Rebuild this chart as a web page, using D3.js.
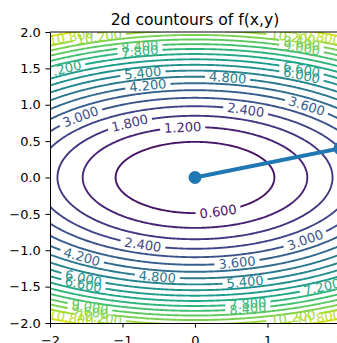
<!DOCTYPE html>
<html>
<head>
<meta charset="utf-8">
<script src="https://cdn.jsdelivr.net/npm/d3@7"></script>
<style>
  body { margin: 0; background: #fff; }
  text { font-family: "DejaVu Sans", sans-serif; }
</style>
</head>
<body>
<div id="chart"></div>
<script>
// f(x, y) = cx * x^2 + cy * y^2
const coefX = 0.5;
const coefY = 2.5;

const xTicks = [-2, -1, 0, 1, 2];
const yTicks = [-2, -1.5, -1, -0.5, 0, 0.5, 1, 1.5, 2];
const levels = [0.6, 1.2, 1.8, 2.4, 3.0, 3.6, 4.2, 4.8, 5.4, 6.0, 6.6, 7.2, 7.8, 8.4, 9.0, 9.6, 10.2, 10.8, 11.4];
const colorMax = 12;

// path drawn on top
const pathX = [0, 2];
const pathY = [0, 0.4];

// contour labels: [level, x, side (+1 upper arc, -1 lower arc)]
const labelsTop = [
  [1.2, -0.17, 1], [1.8, -0.9, 1], [2.4, 0.7, 1], [3.0, -1.58, 1], [3.6, 1.54, 1],
  [4.2, -0.65, 1], [4.8, 0.45, 1], [5.4, -0.72, 1], [6.0, 1.47, 1], [6.6, 1.47, 1],
  [7.2, -1.82, 1], [7.8, -0.76, 1], [8.4, -0.76, 1], [9.0, 1.47, 1], [9.6, 1.47, 1],
  [10.8, -1.71, 1], [10.2, -1.32, 1], [10.2, 1.35, 1], [10.8, 1.7, 1]
];
const labelsBottom = [
  [0.6, 0.32, -1], [2.4, -0.72, -1], [3.0, 1.52, -1], [3.6, 0.58, -1], [4.2, -1.56, -1],
  [4.8, -0.52, -1], [5.4, 0.69, -1], [6.0, -1.54, -1], [6.6, -1.54, -1], [7.2, 1.75, -1],
  [7.8, 0.73, -1], [8.4, 0.73, -1], [9.0, -1.45, -1], [9.6, -1.45, -1],
  [10.8, -1.71, -1], [10.2, -1.32, -1], [10.2, 1.35, -1], [10.8, 1.7, -1]
];

const margin = { top: 32, left: 50 };
const width = 290, height = 291;

const svg = d3.select("#chart").append("svg")
  .attr("width", 337)
  .attr("height", 343);

const x = d3.scaleLinear().domain([-2, 2]).range([0, width]);
const y = d3.scaleLinear().domain([-2, 2]).range([height, 0]);
const color = d => d3.interpolateViridis(d / colorMax);

const g = svg.append("g")
  .attr("transform", `translate(${margin.left}, ${margin.top})`);

svg.append("defs").append("clipPath").attr("id", "clip")
  .append("rect").attr("width", width).attr("height", height);

// grid a bit larger than the axes so the grid border is clipped away
const n = 221;
const gx = d3.scaleLinear().domain([0.5, n - 0.5]).range([-2.2, 2.2]);
const gy = d3.scaleLinear().domain([0.5, n - 0.5]).range([-2.2, 2.2]);
const values = new Array(n * n);
for (let j = 0; j < n; j++) {
  for (let i = 0; i < n; i++) {
    const xv = gx(i + 0.5), yv = gy(j + 0.5);
    values[j * n + i] = coefX * xv * xv + coefY * yv * yv;
  }
}
const contours = d3.contours().size([n, n]).thresholds(levels)(values);

const proj = d3.geoTransform({
  point: function (px, py) { this.stream.point(x(gx(px)), y(gy(py))); }
});
const geoPath = d3.geoPath(proj);

const plot = g.append("g").attr("clip-path", "url(#clip)");

// labels first (for measuring), then masks, then lines
const allLabels = labelsTop.concat(labelsBottom).map(([lev, lx, side]) => {
  const ly = side * Math.sqrt((lev - coefX * lx * lx) / coefY);
  // tangent in screen space (equal scale on both axes)
  let ang = Math.atan2(lx * coefX, ly * coefY) * 180 / Math.PI;
  if (ang > 90) ang -= 180;
  if (ang < -90) ang += 180;
  return { lev, px: x(lx), py: y(ly), ang };
});

const defs = svg.select("defs");
const lineLayer = plot.append("g");
const labelLayer = plot.append("g");

const labelText = labelLayer.selectAll("text")
  .data(allLabels)
  .join("text")
  .attr("transform", d => `translate(${d.px}, ${d.py}) rotate(${d.ang})`)
  .attr("text-anchor", "middle")
  .attr("dominant-baseline", "central")
  .attr("font-size", "13px")
  .attr("fill", d => color(d.lev))
  .text(d => d3.format(".3f")(d.lev));

labelText.each(function (d) { d.w = this.getComputedTextLength(); });

levels.forEach((lev, k) => {
  const m = defs.append("mask").attr("id", "m" + k)
    .attr("maskUnits", "userSpaceOnUse")
    .attr("x", -50).attr("y", -50).attr("width", width + 100).attr("height", height + 100);
  m.append("rect").attr("x", -50).attr("y", -50)
    .attr("width", width + 100).attr("height", height + 100).attr("fill", "#fff");
  allLabels.filter(d => d.lev === lev).forEach(d => {
    m.append("rect")
      .attr("x", -d.w / 2 - 4).attr("y", -7)
      .attr("width", d.w + 8).attr("height", 14)
      .attr("transform", `translate(${d.px}, ${d.py}) rotate(${d.ang})`)
      .attr("fill", "#000");
  });
});

lineLayer.selectAll("path")
  .data(contours)
  .join("path")
  .attr("d", geoPath)
  .attr("fill", "none")
  .attr("stroke", d => color(d.value))
  .attr("stroke-width", 1.9)
  .attr("mask", (d, k) => `url(#m${k})`);

// blue path with markers
const pts = pathX.map((v, i) => [v, pathY[i]]);
g.append("path")
  .datum(pts)
  .attr("fill", "none")
  .attr("stroke", "#1f77b4")
  .attr("stroke-width", 3.9)
  .attr("d", d3.line().x(d => x(d[0])).y(d => y(d[1])));
g.selectAll("circle.pt")
  .data(pts)
  .join("circle")
  .attr("class", "pt")
  .attr("cx", d => x(d[0]))
  .attr("cy", d => y(d[1]))
  .attr("r", 6.5)
  .attr("fill", "#1f77b4");

// axes
const xAxis = g.append("g")
  .attr("transform", `translate(0, ${height})`)
  .call(d3.axisBottom(x).tickValues(xTicks).tickSize(4.6).tickPadding(8).tickSizeOuter(0)
    .tickFormat(d3.format(".0f")));
const yAxis = g.append("g")
  .call(d3.axisLeft(y).tickValues(yTicks).tickSize(4.6).tickPadding(4.6).tickSizeOuter(0)
    .tickFormat(d3.format(".1f")));

[xAxis, yAxis].forEach(a => {
  a.attr("font-family", null).attr("font-size", null);
  a.selectAll("text").attr("font-size", "13px").attr("fill", "#000")
    .style("font-family", "'DejaVu Sans', sans-serif");
  a.selectAll("line").attr("stroke", "#000").attr("stroke-width", 1);
  a.select(".domain").attr("stroke", "#000").attr("stroke-width", 1);
});

// top and right spines
g.append("line").attr("x1", 0).attr("x2", width).attr("y1", 0).attr("y2", 0)
  .attr("stroke", "#000").attr("stroke-width", 1);
g.append("line").attr("x1", width).attr("x2", width).attr("y1", 0).attr("y2", height)
  .attr("stroke", "#000").attr("stroke-width", 1);

// title
svg.append("text")
  .attr("x", margin.left + width / 2)
  .attr("y", 25)
  .attr("text-anchor", "middle")
  .attr("font-size", "15.6px")
  .attr("fill", "#000")
  .text("2d countours of f(x,y)");
</script>
</body>
</html>
